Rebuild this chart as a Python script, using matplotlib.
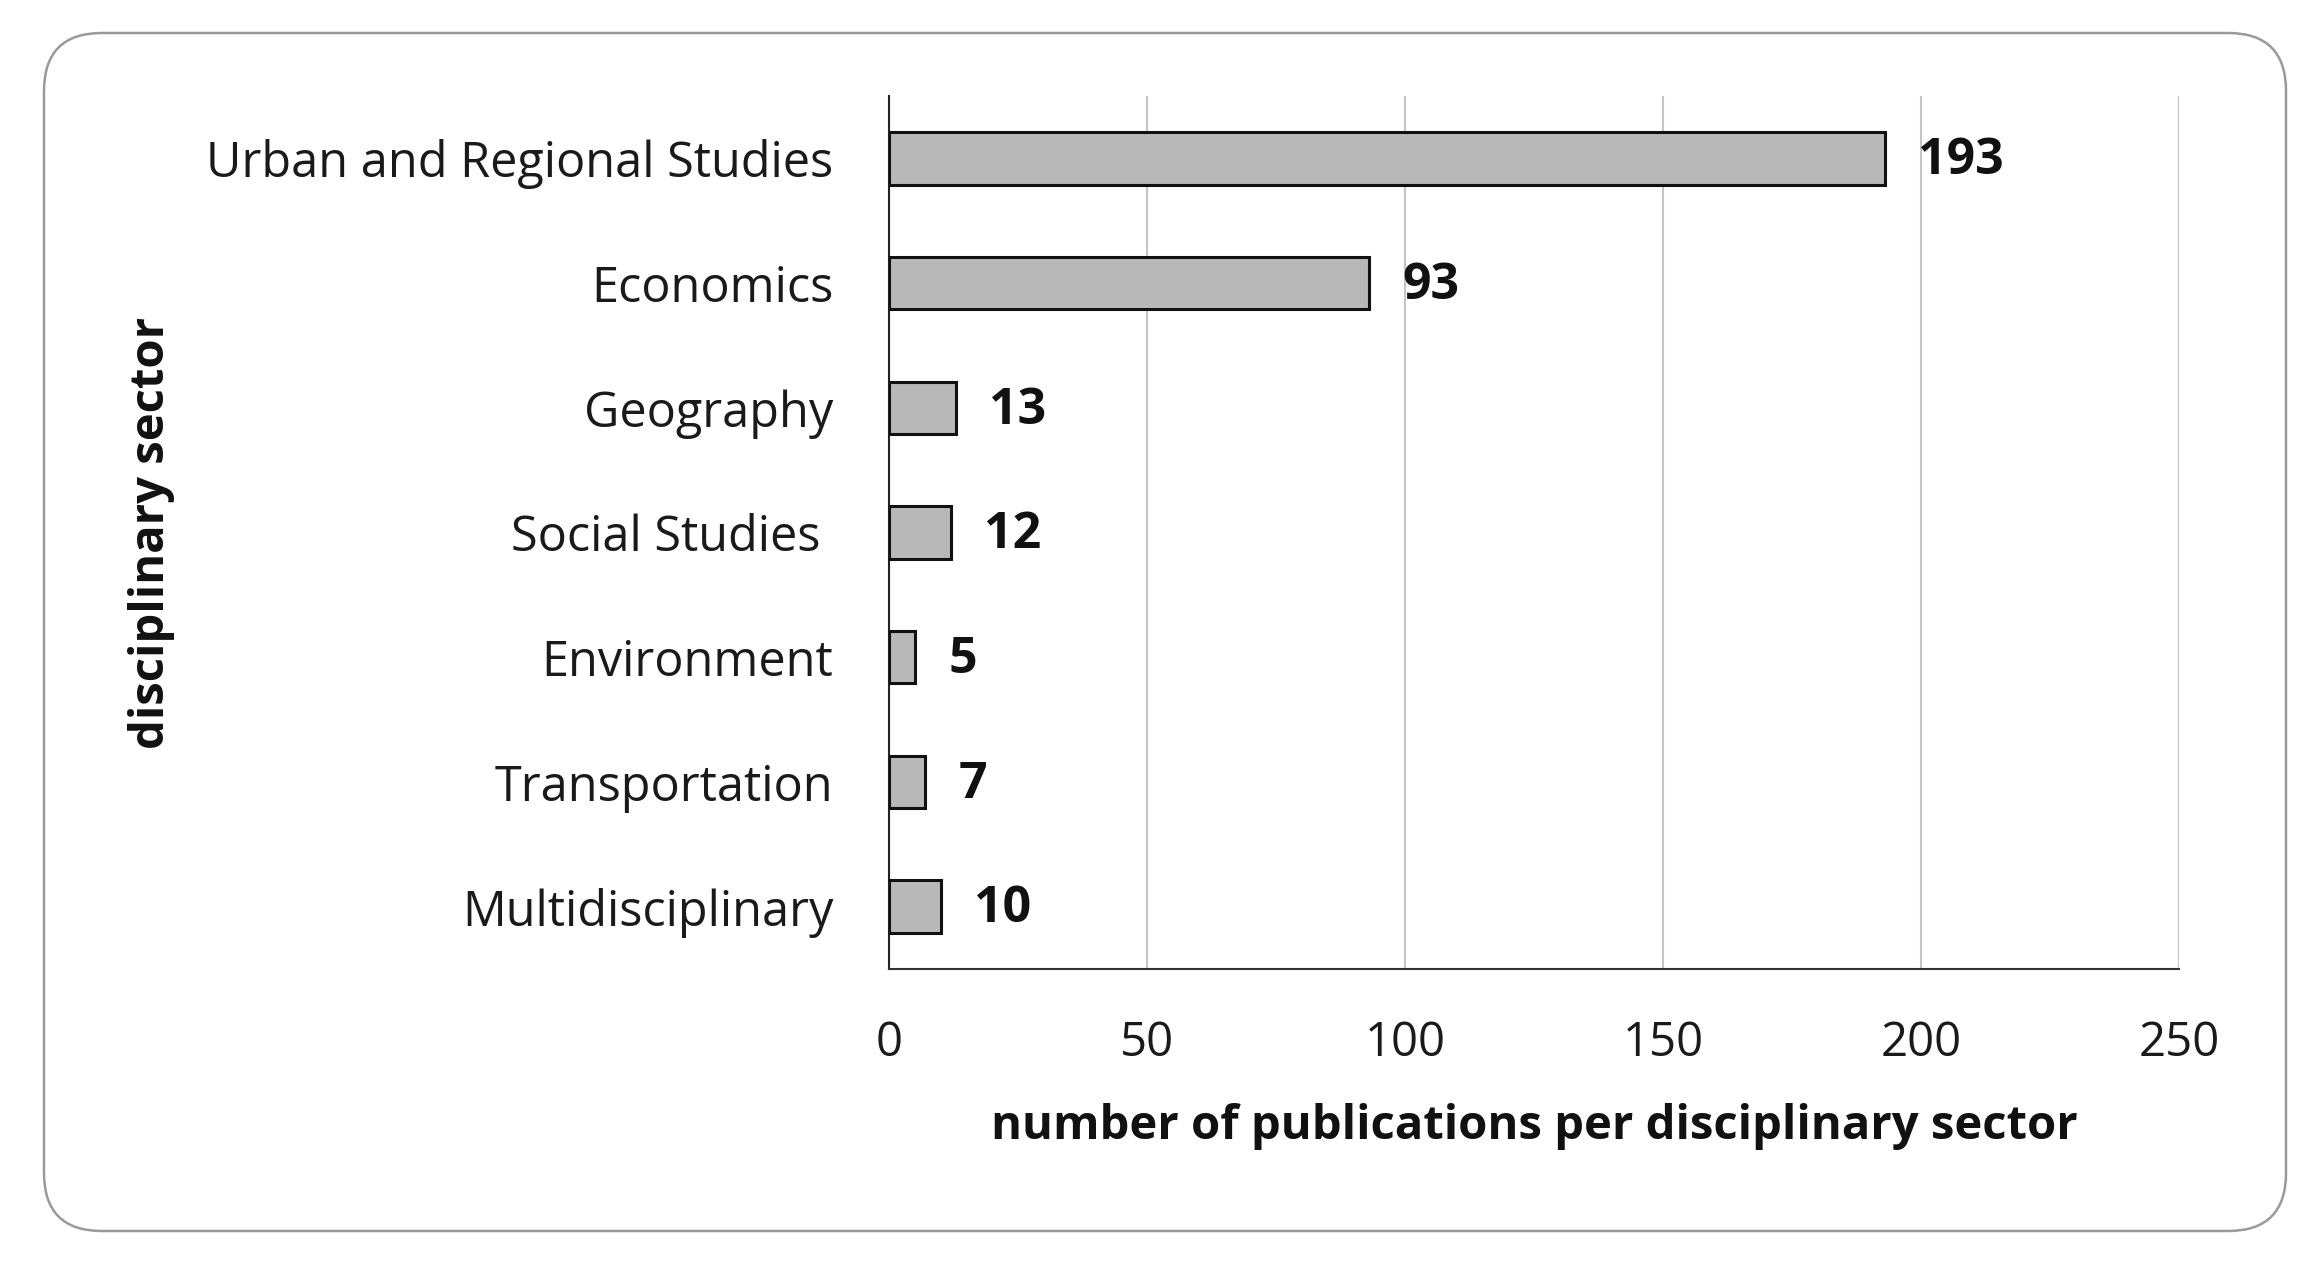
import matplotlib
matplotlib.use("Agg")
import matplotlib.pyplot as plt
from matplotlib.patches import FancyBboxPatch

categories = ["Urban and Regional Studies", "Economics", "Geography", "Social Studies ",
              "Environment", "Transportation", "Multidisciplinary"]
values = [193, 93, 13, 12, 5, 7, 10]
xticks = [0, 50, 100, 150, 200, 250]

plt.rcParams['font.family'] = ['Open Sans', 'DejaVu Sans']

W, H = 2320, 1264
fig = plt.figure(figsize=(W / 100, H / 100), dpi=100)

# background frame axes (pixel coordinates)
bg = fig.add_axes([0, 0, 1, 1], zorder=0)
bg.set_xlim(0, W)
bg.set_ylim(H, 0)
bg.axis('off')
bg.add_patch(FancyBboxPatch((44, 33), 2242, 1198,
                            boxstyle="round,pad=0,rounding_size=58",
                            facecolor='white', edgecolor='#9a9a9a', linewidth=1.8))

ax = fig.add_axes([889 / W, 1 - 969 / H, (2179 - 889) / W, (969 - 96) / H], zorder=1)
ax.patch.set_alpha(0)

y = list(range(len(categories)))
ax.barh(y, values, height=0.42, color='#b8b8b8', edgecolor='#111111', linewidth=2.2, zorder=3)
for yi, v in zip(y, values):
    ax.annotate(str(v), (v, yi), xytext=(24, -2), textcoords='offset points',
                ha='left', va='center', fontsize=36, fontweight='bold', color='#111111')

ax.set_xlim(0, 250)
ax.set_ylim(len(categories) - 0.5, -0.5)
ax.set_yticks(y)
ax.set_yticklabels(categories)
for lbl in ax.get_yticklabels():
    lbl.set_y(lbl.get_position()[1])
ax.set_xticks(xticks)
ax.set_xticklabels([str(t) for t in xticks])
ax.tick_params(axis='y', length=0, pad=40, labelsize=35, labelcolor='#1a1a1a')
ax.tick_params(axis='x', length=0, pad=36, labelsize=34, labelcolor='#1a1a1a')

ax.grid(axis='x', color='#c4c4c4', linewidth=1.5, zorder=0)
ax.set_axisbelow(True)
for s in ['top', 'right']:
    ax.spines[s].set_visible(False)
ax.spines['left'].set_color('#222222')
ax.spines['left'].set_linewidth(1.5)
ax.spines['bottom'].set_color('#333333')
ax.spines['bottom'].set_linewidth(1.5)

ax.set_xlabel("number of publications per disciplinary sector", fontsize=34,
              fontweight='bold', color='#111111')
ax.xaxis.set_label_coords(0.5, (969 - 1127) / 873)
ax.xaxis.label.set_va('center')
ax.set_ylabel("disciplinary sector", fontsize=34, fontweight='bold', color='#111111')
ax.yaxis.set_label_coords((152 - 889) / 1290, 0.5)
ax.yaxis.label.set_va('center')

fig.savefig("out.png", dpi=100)
